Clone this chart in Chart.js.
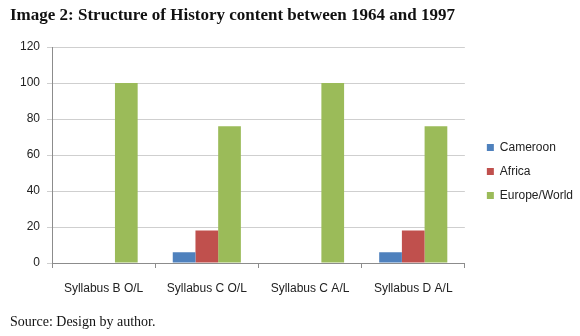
<!DOCTYPE html>
<html>
<head>
<meta charset="utf-8">
<script src="https://cdn.jsdelivr.net/npm/chart.js@4/dist/chart.umd.min.js"></script>
<style>
  html, body { margin: 0; padding: 0; background: #fff; }
  #wrap { position: relative; width: 580px; height: 336px; overflow: hidden; }
  #chart { position: absolute; left: 0; top: 0; }
  .title { position: absolute; left: 10px; top: 6px; font: bold 17px "Liberation Serif", serif; line-height: 1; color: #111; white-space: nowrap; }
  .source { position: absolute; left: 10px; top: 315px; font: 14px "Liberation Serif", serif; line-height: 1; color: #111; white-space: nowrap; }
</style>
</head>
<body>
<div id="wrap">
  <canvas id="chart" width="580" height="336"></canvas>
  <div class="title">Image 2: Structure of History content between 1964 and 1997</div>
  <div class="source">Source: Design by author.</div>
</div>
<script>
// data
const categories = ['Syllabus B O/L', 'Syllabus C O/L', 'Syllabus C A/L', 'Syllabus D A/L'];
const cameroon = [0, 6, 0, 6];
const africa = [0, 18, 0, 18];
const europeWorld = [100, 76, 100, 76];
const yTicks = [0, 20, 40, 60, 80, 100, 120];

// move the legend block where the original one sits
const legendShift = {
  id: 'legendShift',
  afterLayout(chart) {
    const lg = chart.legend;
    lg.left += 10; lg.right += 10;
    lg.top -= 1; lg.bottom -= 1;
  }
};

const font = { family: '"Liberation Sans", Arial, sans-serif', size: 12 };

new Chart(document.getElementById('chart'), {
  type: 'bar',
  data: {
    labels: categories,
    datasets: [
      { label: 'Cameroon', data: cameroon, backgroundColor: '#4F81BD' },
      { label: 'Africa', data: africa, backgroundColor: '#C0504D' },
      { label: 'Europe/World', data: europeWorld, backgroundColor: '#9BBB59' }
    ]
  },
  options: {
    responsive: false,
    devicePixelRatio: 1,
    animation: false,
    layout: { padding: { top: 47, right: 7, bottom: 38, left: 0 } },
    datasets: { bar: { categoryPercentage: 0.66, barPercentage: 1 } },
    plugins: {
      legend: {
        position: 'right',
        labels: { boxWidth: 7, boxHeight: 7, padding: 12, color: '#222', font: font }
      },
      tooltip: { enabled: false }
    },
    scales: {
      x: {
        grid: { offset: true, drawOnChartArea: false, tickLength: 5, color: '#8c8c8c' },
        border: { color: '#8c8c8c' },
        ticks: { color: '#222', font: font, padding: 13, maxRotation: 0 },
        afterFit(s) { s.height = 35; }
      },
      y: {
        min: 0,
        max: 120,
        afterBuildTicks(s) { s.ticks = yTicks.map(v => ({ value: v })); },
        grid: { color: '#cfcfcf', tickLength: 5 },
        border: { color: '#8c8c8c' },
        ticks: { color: '#222', font: font, padding: 7 },
        afterFit(s) { s.width = 52; }
      }
    }
  },
  plugins: [legendShift]
});
</script>
</body>
</html>
